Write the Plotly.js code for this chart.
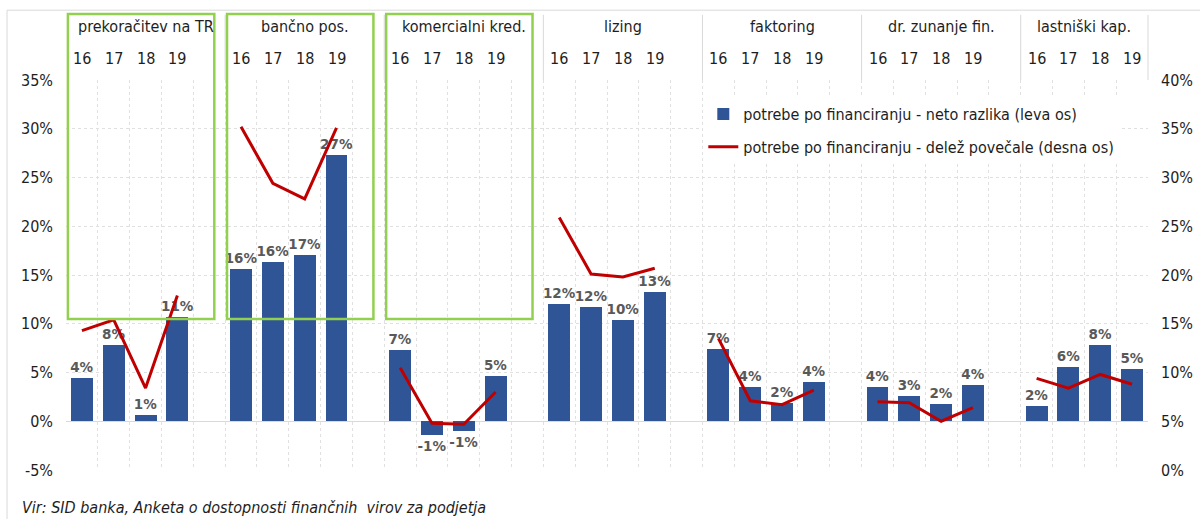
<!DOCTYPE html>
<html>
<head>
<meta charset="utf-8">
<script src="https://cdn.plot.ly/plotly-3.0.1.min.js"></script>
<style>html,body{margin:0;padding:0;background:#fff;}#chart{width:1200px;height:519px;}</style>
</head>
<body>
<div id="chart"></div>
<script>
const groups = ['prekoračitev na TR', 'bančno pos.', 'komercialni kred.', 'lizing', 'faktoring', 'dr. zunanje fin.', 'lastniški kap.'];
const years = ['16', '17', '18', '19'];
// potrebe po financiranju - neto razlika (leva os), % per group, years 16..19
const netoRazlika = [
  [4.4, 7.8, 0.6, 10.7],
  [15.6, 16.3, 17.1, 27.3],
  [7.3, -1.4, -1.0, 4.6],
  [12.0, 11.7, 10.4, 13.3],
  [7.4, 3.55, 1.9, 4.0],
  [3.55, 2.6, 1.8, 3.7],
  [1.6, 5.55, 7.8, 5.4]
];
// potrebe po financiranju - delež povečale (desna os), %
const delezPovecale = [
  [14.3, 15.4, 8.4, 17.9],
  [35.2, 29.4, 27.8, 35.1],
  [10.5, 4.8, 4.7, 8.0],
  [25.9, 20.1, 19.8, 20.7],
  [13.5, 7.1, 6.7, 8.2],
  [7.0, 6.9, 5.0, 6.4],
  [9.4, 8.4, 9.8, 8.8]
];
const leftTicks = [-5, 0, 5, 10, 15, 20, 25, 30, 35];
const rightTicks = [0, 5, 10, 15, 20, 25, 30, 35, 40];
const highlighted = [0, 1, 2];
const legendNames = ['potrebe po financiranju - neto razlika (leva os)', 'potrebe po financiranju - delež povečale (desna os)'];
const sourceText = 'Vir: SID banka, Anketa o dostopnosti finančnih&nbsp; virov za podjetja';

const FONT = "Tahoma, 'DejaVu Sans Condensed', 'DejaVu Sans', sans-serif";
const TXT = '#1e1e1e';
const GRID = '#d9d9d9';
const per = years.length + 1;
const nSlots = groups.length * per - 1;
const px = s => (s + 0.5) / nSlots; // slot -> paper x

const barX = [], barY = [], lineX = [], lineY = [];
groups.forEach((g, gi) => {
  years.forEach((yr, i) => {
    barX.push(gi * per + i); barY.push(netoRazlika[gi][i]);
    lineX.push(gi * per + i); lineY.push(delezPovecale[gi][i]);
  });
  if (gi < groups.length - 1) { lineX.push(gi * per + years.length); lineY.push(null); }
});

const traces = [
  {
    type: 'bar', x: barX, y: barY, name: legendNames[0], legendgroup: 'a',
    width: 0.69, marker: {color: '#2F5597', line: {width: 0}},
    texttemplate: '%{y:.0f}%', textposition: 'outside', cliponaxis: false, constraintext: 'none',
    textfont: {family: "'DejaVu Sans', sans-serif", size: 13.5, color: '#595959', weight: 'bold'},
    hoverinfo: 'skip'
  },
  {
    type: 'scatter', mode: 'lines', x: lineX, y: lineY, yaxis: 'y2', name: legendNames[1], legendgroup: 'b',
    connectgaps: false, line: {color: '#C00000', width: 3}, hoverinfo: 'skip'
  }
];

const annotations = [];
const shapes = [];
groups.forEach((g, gi) => {
  const start = gi * per - 0.5;
  const end = Math.min(gi * per + per - 0.5, nSlots - 0.5);
  annotations.push({xref: 'paper', yref: 'paper', x: px((start + end) / 2), y: 1.136, text: g, showarrow: false,
    xanchor: 'center', yanchor: 'middle', font: {family: FONT, size: 16, color: TXT}});
  years.forEach((yr, i) => {
    annotations.push({xref: 'paper', yref: 'paper', x: px(gi * per + i), y: 1.056, text: yr, showarrow: false,
      xanchor: 'center', yanchor: 'middle', font: {family: FONT, size: 16, color: TXT}});
  });
  if (gi > 0) shapes.push({type: 'line', xref: 'paper', yref: 'paper', x0: px(start), x1: px(start), y0: 1.0, y1: 1.167, line: {color: GRID, width: 1}});
});
shapes.push({type: 'line', xref: 'paper', yref: 'paper', x0: 1, x1: 1, y0: 1.0, y1: 1.167, line: {color: GRID, width: 1}});
// outer chart frame
shapes.push({type: 'rect', xref: 'paper', yref: 'paper', x0: -0.0545, x1: 1.2, y0: -0.3, y1: 1.179, line: {color: GRID, width: 1}, layer: 'below'});
// green highlight boxes
highlighted.forEach(gi => {
  shapes.push({type: 'rect', xref: 'paper', yref: 'paper', x0: px(gi * per - 0.44), x1: px(gi * per + 4.16),
    y0: 0.387, y1: 1.169, line: {color: '#92D050', width: 2.5}, fillcolor: 'rgba(0,0,0,0)', layer: 'above'});
});
annotations.push({xref: 'paper', yref: 'paper', x: -0.0425, y: -0.095, xanchor: 'left', yanchor: 'middle', showarrow: false,
  text: '<i>' + sourceText + '</i>', font: {family: FONT, size: 16, color: TXT}});

const tickVals = [];
for (let s = -0.5; s <= nSlots - 0.5; s += 1) tickVals.push(s);

const layout = {
  width: 1200, height: 519,
  margin: {l: 66, r: 52, t: 80, b: 49, pad: 0},
  paper_bgcolor: '#fff', plot_bgcolor: '#fff',
  showlegend: true,
  bargap: 0,
  xaxis: {range: [-0.5, nSlots - 0.5], tickvals: tickVals, showticklabels: false, ticks: '',
    showgrid: true, gridcolor: '#e0e0e0', griddash: 'dot', gridwidth: 1, zeroline: false, showline: false, fixedrange: true},
  yaxis: {range: [-5, 35], tickvals: leftTicks, ticktext: leftTicks.map(v => v + '%'), showgrid: true, gridcolor: '#e0e0e0', griddash: 'dot',
    zeroline: true, zerolinecolor: GRID, zerolinewidth: 1.5, showline: false, ticks: '', ticklabelstandoff: 12,
    tickfont: {family: FONT, size: 16, color: TXT}},
  yaxis2: {range: [0, 40], tickvals: rightTicks, ticktext: rightTicks.map(v => v + '%'), overlaying: 'y', side: 'right', showgrid: false,
    zeroline: false, showline: false, ticks: '', ticklabelstandoff: 12,
    tickfont: {family: FONT, size: 16, color: TXT}},
  legend: {x: 0.589, y: 0.956, xanchor: 'left', yanchor: 'top', bgcolor: '#fff', borderwidth: 0,
    traceorder: 'grouped', tracegroupgap: 9, itemwidth: 30,
    font: {family: FONT, size: 16, color: TXT}},
  annotations: annotations,
  shapes: shapes
};

Plotly.newPlot('chart', traces, layout, {displayModeBar: false, staticPlot: true});
</script>
</body>
</html>
